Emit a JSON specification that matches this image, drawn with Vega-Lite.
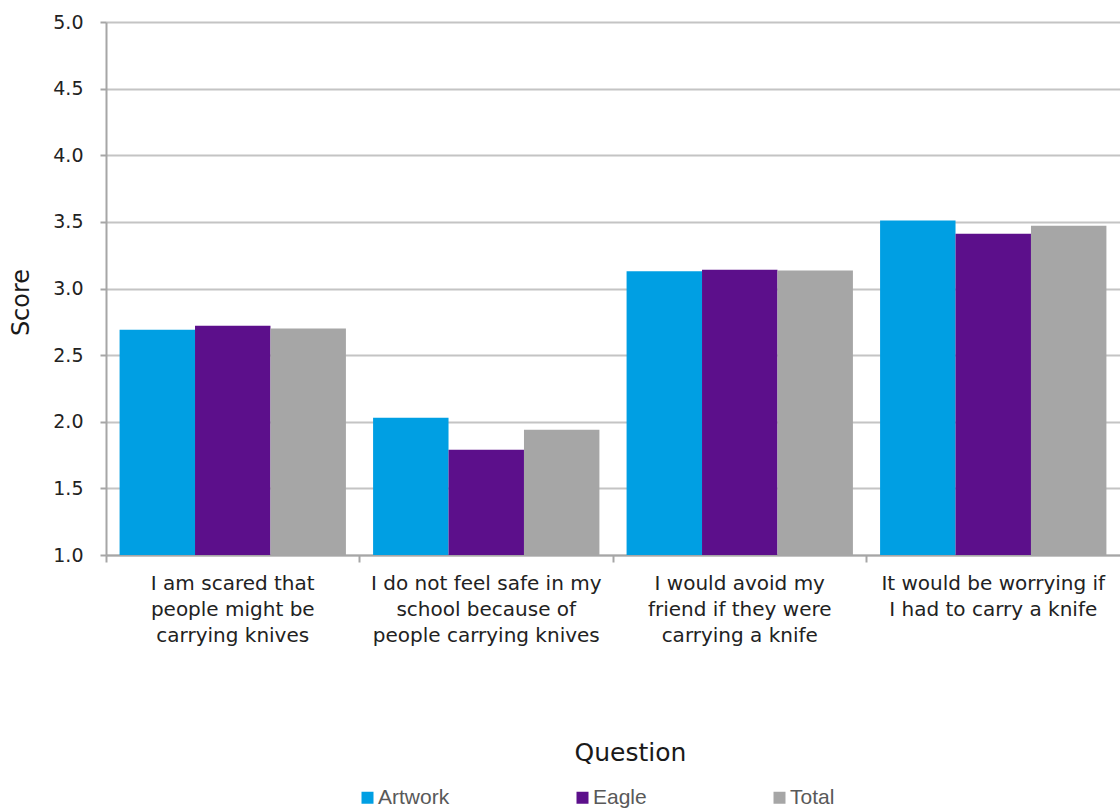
{
  "$schema": "https://vega.github.io/schema/vega-lite/v6.json",
  "autosize": {"type": "none"},
  "width": 1014,
  "height": 533,
  "padding": {"left": 106, "top": 22, "right": 0, "bottom": 256},
  "background": "white",
  "config": {"view": {"stroke": null}, "font": "DejaVu Sans"},
  "data": {"values": [
    {"question": "I am scared that|people might be|carrying knives", "group": "Artwork", "score": 2.69},
    {"question": "I am scared that|people might be|carrying knives", "group": "Eagle", "score": 2.72},
    {"question": "I am scared that|people might be|carrying knives", "group": "Total", "score": 2.70},
    {"question": "I do not feel safe in my|school because of|people carrying knives", "group": "Artwork", "score": 2.03},
    {"question": "I do not feel safe in my|school because of|people carrying knives", "group": "Eagle", "score": 1.79},
    {"question": "I do not feel safe in my|school because of|people carrying knives", "group": "Total", "score": 1.94},
    {"question": "I would avoid my|friend if they were|carrying a knife", "group": "Artwork", "score": 3.13},
    {"question": "I would avoid my|friend if they were|carrying a knife", "group": "Eagle", "score": 3.14},
    {"question": "I would avoid my|friend if they were|carrying a knife", "group": "Total", "score": 3.135},
    {"question": "It would be worrying if|I had to carry a knife", "group": "Artwork", "score": 3.51},
    {"question": "It would be worrying if|I had to carry a knife", "group": "Eagle", "score": 3.41},
    {"question": "It would be worrying if|I had to carry a knife", "group": "Total", "score": 3.47}
  ]},
  "mark": {"type": "bar", "clip": true},
  "encoding": {
    "x": {
      "field": "question", "type": "nominal", "sort": null,
      "scale": {"paddingInner": 0, "paddingOuter": 0},
      "axis": {
        "title": "Question",
        "titleFont": "DejaVu Sans", "titleFontSize": 25, "titleFontWeight": "normal", "titleColor": "#1a1a1a",
        "titleX": 524, "titleY": 205, "titleBaseline": "alphabetic",
        "labelAngle": 0, "labelExpr": "split(datum.label, '|')",
        "labelFont": "DejaVu Sans", "labelFontSize": 20, "labelColor": "#222222", "labelLineHeight": 26,
        "labelDx": 127, "labelPadding": 11, "labelLimit": 300,
        "bandPosition": 0,
        "domainColor": "#a6a6a6", "domainWidth": 2,
        "tickColor": "#a6a6a6", "tickWidth": 2, "tickSize": 7,
        "grid": false
      }
    },
    "xOffset": {"field": "group", "type": "nominal", "scale": {"paddingInner": 0, "paddingOuter": 0.18}},
    "y": {
      "field": "score", "type": "quantitative",
      "scale": {"domain": [1, 5], "nice": false, "zero": false},
      "axis": {
        "title": "Score", "values": [1, 1.5, 2, 2.5, 3, 3.5, 4, 4.5, 5], "format": ".1f",
        "titleFont": "DejaVu Sans", "titleFontSize": 24, "titleFontWeight": "normal", "titleColor": "#1a1a1a",
        "titleX": -85, "titleY": 280, "titleBaseline": "middle", "titleAlign": "center",
        "labelFont": "DejaVu Sans", "labelFontSize": 19, "labelColor": "#222222", "labelPadding": 17,
        "domainColor": "#a6a6a6", "domainWidth": 2,
        "tickColor": "#a6a6a6", "tickWidth": 2, "tickSize": 6,
        "gridColor": "#c4c4c4", "gridWidth": 2
      }
    },
    "color": {
      "field": "group", "type": "nominal",
      "scale": {"domain": ["Artwork", "Eagle", "Total"], "range": ["#009fe3", "#5c0f8b", "#a6a6a6"]},
      "legend": {
        "title": null, "orient": "none", "direction": "horizontal",
        "legendX": 251, "legendY": 765,
        "symbolType": "square", "symbolSize": 144, "symbolStrokeWidth": 0,
        "labelFont": "Liberation Sans", "labelFontSize": 21, "labelColor": "#595959", "labelOffset": 0,
        "columnPadding": 122
      }
    }
  }
}
